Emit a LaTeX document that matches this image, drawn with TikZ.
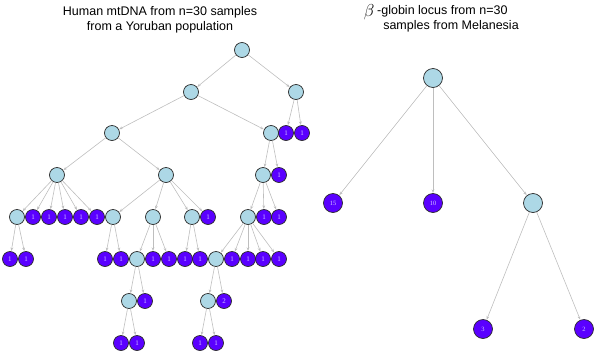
\documentclass[tikz,border=0pt]{standalone}
\usepackage{fontspec}
\setmainfont{Liberation Sans}
\newfontfamily\labfont{Liberation Serif}
\usetikzlibrary{arrows.meta}
\definecolor{leafc}{HTML}{5A00FF}
\definecolor{innerc}{HTML}{ADD8E6}
\definecolor{edgec}{HTML}{BEBEBE}
\definecolor{labc}{HTML}{D2C4FF}
\definecolor{rimc}{HTML}{2A2A2A}
\tikzset{
  inn/.style={circle,draw=rimc,line width=0.7pt,fill=innerc,minimum size=15pt,inner sep=0pt},
  lf/.style={circle,draw=rimc,line width=0.7pt,fill=leafc,minimum size=15pt,inner sep=0pt,
     font=\labfont\fontsize{7}{7}\selectfont,text=labc},
  binn/.style={inn,minimum size=19pt},
  blf/.style={lf,minimum size=19pt,font=\labfont\fontsize{6.5}{6.5}\selectfont},
  ed/.style={draw=edgec,line width=0.6pt,-{Stealth[length=3.5pt,width=2.8pt]},shorten >=0.3pt},
  ttl/.style={font=\fontsize{12.5}{15}\selectfont,align=center,inner sep=0pt}
}
\begin{document}
\begin{tikzpicture}[x=1pt,y=-1pt]
\useasboundingbox (0,0) rectangle (595,354);
% titles
\node[ttl] (t1) at (160,12) {Human mtDNA from n=30 samples};
\node[ttl] (t2) at (160,27) {from a Yoruban population};
\node[ttl,anchor=west] (t3) at (377,11) {-globin locus from n=30};
\node[inner sep=0pt,anchor=east,font=\fontsize{16}{16}\selectfont] (tb) at (374.5,12) {$\beta$};
\node[ttl] (t4) at (451,26) {samples from Melanesia};
% left tree
\node[inn] (A) at (242,50) {};
\node[inn] (B) at (191,92) {};
\node[inn] (C) at (296,92) {};
\node[inn] (E) at (112,133) {};
\node[inn] (D) at (271,133) {};
\node[lf] (c1) at (286,133) {1};
\node[lf] (c2) at (302,133) {1};
\node[inn] (F) at (57,175) {};
\node[inn] (G) at (166,175) {};
\node[inn] (N) at (263,175) {};
\node[lf] (d1) at (279,175) {1};
\node[inn] (H) at (17,217) {};
\node[lf] (f1) at (33,217) {1};
\node[lf] (f2) at (49,217) {1};
\node[lf] (f3) at (65,217) {1};
\node[lf] (f4) at (81,217) {1};
\node[lf] (f5) at (97,217) {1};
\node[inn] (I) at (113,217) {};
\node[inn] (J) at (153,217) {};
\node[inn] (K) at (192,217) {};
\node[lf] (g1) at (208,217) {1};
\node[inn] (O) at (248,217) {};
\node[lf] (n1) at (264,217) {1};
\node[lf] (n2) at (279,217) {1};
\node[lf] (h1) at (10,259) {1};
\node[lf] (h2) at (26,259) {1};
\node[lf] (i1) at (105,259) {1};
\node[lf] (i2) at (121,259) {1};
\node[inn] (L) at (137,259) {};
\node[lf] (j1) at (153,259) {1};
\node[lf] (j2) at (169,259) {1};
\node[lf] (k1) at (185,259) {1};
\node[lf] (k2) at (200,259) {1};
\node[inn] (M) at (216,259) {};
\node[lf] (o1) at (232,259) {1};
\node[lf] (o2) at (248,259) {1};
\node[lf] (o3) at (263,259) {1};
\node[lf] (o4) at (279,259) {1};
\node[inn] (P) at (129,301) {};
\node[lf] (l1) at (145,301) {1};
\node[inn] (Q) at (208,301) {};
\node[lf] (m1) at (224,301) {2};
\node[lf] (p1) at (121,343) {1};
\node[lf] (p2) at (137,343) {1};
\node[lf] (q1) at (200,343) {1};
\node[lf] (q2) at (216,343) {1};
\foreach \s/\t in {A/B,A/C,B/E,B/D,C/c1,C/c2,E/F,E/G,D/N,D/d1,
  F/H,F/f1,F/f2,F/f3,F/f4,F/f5,G/I,G/J,G/K,G/g1,N/O,N/n1,N/n2,
  H/h1,H/h2,I/i1,I/i2,J/L,J/j1,J/j2,K/k1,K/k2,O/M,O/o1,O/o2,O/o3,O/o4,
  L/P,L/l1,M/Q,M/m1,P/p1,P/p2,Q/q1,Q/q2}
  \draw[ed] (\s) -- (\t);
% right tree
\node[binn] (R) at (433,78) {};
\node[blf] (r15) at (333,203) {15};
\node[blf] (r10) at (433,203) {10};
\node[binn] (S) at (533,203) {};
\node[blf] (s3) at (483,329) {3};
\node[blf] (s2) at (584,329) {2};
\foreach \s/\t in {R/r15,R/r10,R/S,S/s3,S/s2}
  \draw[ed] (\s) -- (\t);
\end{tikzpicture}
\end{document}
